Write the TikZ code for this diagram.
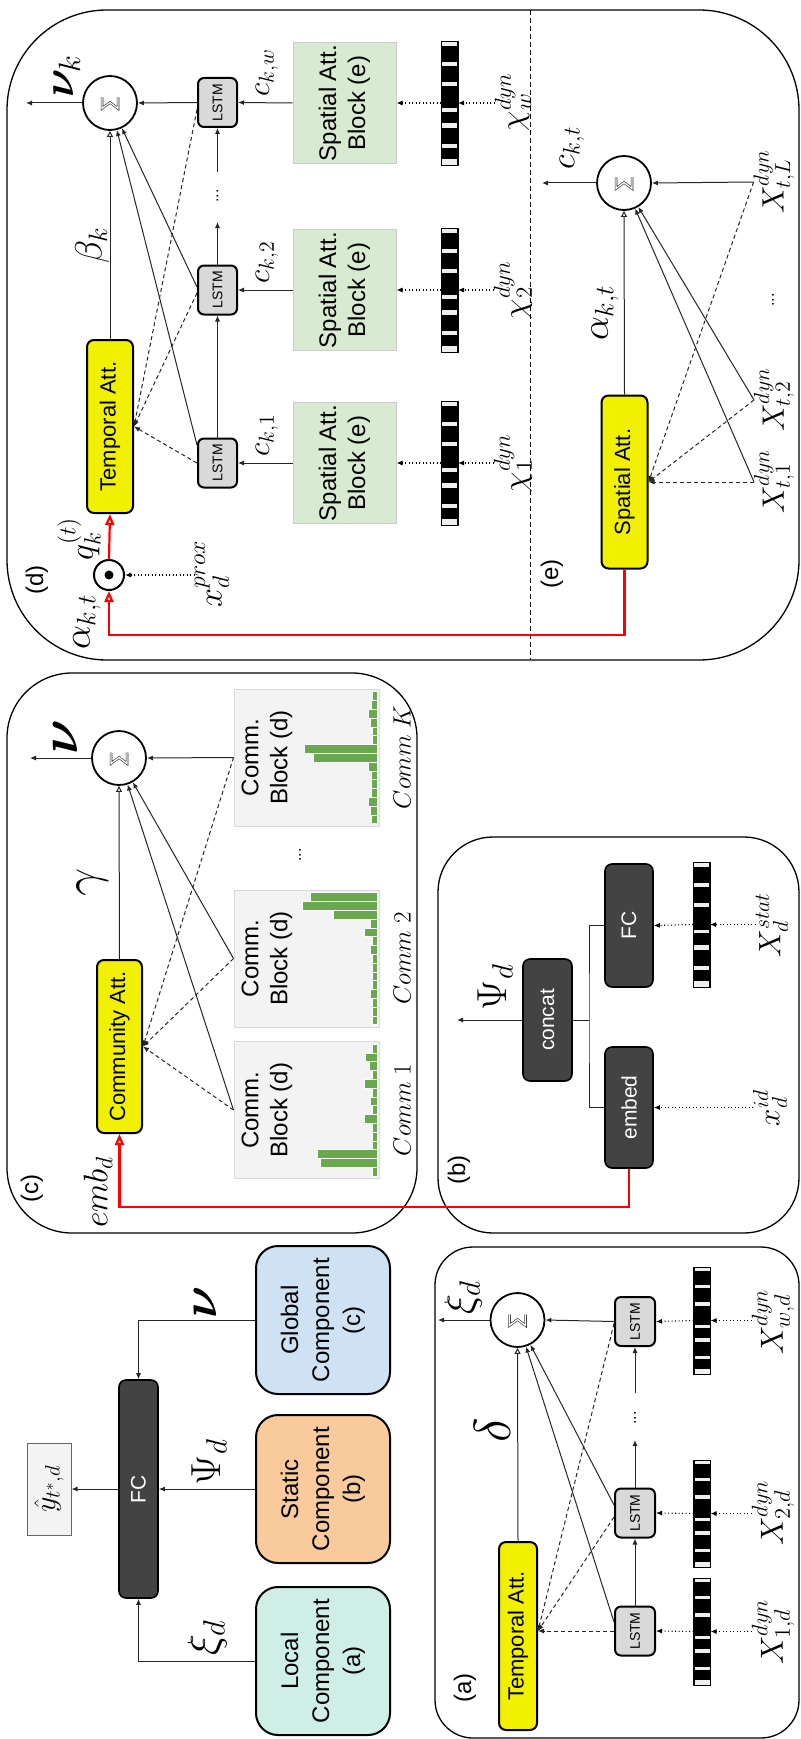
\RequirePackage{fix-cm}
\documentclass[tikz,border=0pt]{standalone}
\usepackage{graphicx}
\usepackage{bm}
\usepackage[no-math]{fontspec}
\setmainfont{Liberation Sans}
\usetikzlibrary{arrows.meta,calc}
\definecolor{cglobal}{HTML}{CFE2F3}
\definecolor{cstatic}{HTML}{F9CB9C}
\definecolor{clocal}{HTML}{CFEEE6}
\definecolor{cyell}{HTML}{F0F000}
\definecolor{cdark}{HTML}{434343}
\definecolor{clstm}{HTML}{D9D9D9}
\definecolor{cspat}{HTML}{D9EAD3}
\definecolor{ccomm}{HTML}{F3F3F3}
\definecolor{ccommb}{HTML}{D9D9D9}
\definecolor{chist}{HTML}{6AA84F}
\definecolor{cband}{HTML}{EEEEEE}
\definecolor{cred}{HTML}{FF0000}
\newcommand{\myfs}[1]{\fontsize{#1}{#1}\selectfont}
\newcommand{\ml}[2]{\scalebox{\fpeval{#1/20}}{\myfs{20}$#2$}}
\newcommand{\barcode}[1]{%
  \foreach \a/\b in {0/0.04, 0.17/0.2, 0.33/0.36, 0.54/0.57, 0.66/0.7, 0.83/0.86, 0.955/1}{%
    \fill[cband] ($(#1.north east)!\a!(#1.north west)+(1,0)$) rectangle ($(#1.south east)!\b!(#1.south west)+(-1,0)$);
  }%
  \draw[line width=0.8pt] (#1.north east) rectangle (#1.south west);
}
\newcommand{\hist}[2]{%
  \foreach \l [count=\i] in {#2}{%
    \fill[chist, draw=white, line width=0.4pt] ($(#1.south east)+(-2,{3+(\i-1)*8.8})$) rectangle ++(-\l,8.8);
  }%
}
\newcommand{\sigmark}[1]{\draw[sigm] ($(#1)+(-8,-5.5)$) -- ($(#1)+(-8,5.5)$) -- ($(#1)+(0,-0.5)$) -- ($(#1)+(8,5.5)$) -- ($(#1)+(8,-5.5)$);}
\tikzset{
  lbl/.style={inner sep=0pt, outer sep=0pt},
  boxtext/.style={font=\fontsize{24}{29}\selectfont, align=center},
  comp/.style={draw=black, line width=2pt, rounded corners=22pt, minimum width=148pt, minimum height=134pt, font=\fontsize{24}{31}\selectfont, align=center, inner sep=0pt},
  dark/.style={draw=black, fill=cdark, line width=1.6pt, rounded corners=7pt, text=white, font=\fontsize{21}{21}\selectfont, inner sep=0pt},
  att/.style={draw=black, fill=cyell, line width=2pt, rounded corners=7pt, font=\fontsize{22}{22}\selectfont, inner sep=0pt},
  lstm/.style={draw=black, fill=clstm, line width=2pt, rounded corners=6pt, minimum width=49pt, minimum height=40pt, font=\fontsize{14}{14}\selectfont, inner sep=0pt},
  sumn/.style={circle, draw=black, line width=1.8pt, minimum size=54pt, inner sep=0pt},
  spat/.style={fill=cspat, draw=black!20, line width=1pt, minimum width=121pt, minimum height=103pt, boxtext, inner sep=0pt},
  comm/.style={fill=ccomm, draw=ccommb, line width=1pt, minimum width=137pt, minimum height=145pt, inner sep=0pt},
  strip/.style={fill=black, minimum height=17pt, inner sep=0pt, outer sep=0pt},
  panel/.style={draw=black, line width=1.3pt},
  conn/.style={draw=black!85, line width=1pt},
  arr/.style={conn, -{Latex[length=6pt,width=5pt]}},
  darr/.style={arr, dash pattern=on 4pt off 3pt},
  dotarr/.style={draw=black, line width=1.1pt, dash pattern=on 1pt off 2.5pt, -{Latex[length=6pt,width=5pt]}},
  oarr/.style={conn, -{Triangle[open,length=6pt,width=6pt]}},
  redarr/.style={draw=cred, line width=2.2pt, -{Triangle[open,length=11pt,width=9pt]}},
  sigm/.style={draw=black!85, line width=0.6pt, double=white, double distance=1.3pt, line join=miter},
}
\begin{document}
\begin{tikzpicture}[x=1pt,y=-1pt,every node/.style={rotate=90}]
\useasboundingbox (0,0) rectangle (800,1739);

% ================= top-left: components
\node[draw=black!60, fill=ccomm, line width=1pt, minimum width=92pt, minimum height=44pt, inner sep=0pt] (yhat) at (49,1489) {\ml{30}{\hat{y}_{t^*,d}}};
\node[dark, minimum width=218pt, minimum height=39pt] (fc) at (138.5,1489) {FC};
\node[comp, fill=cglobal] (glob) at (323,1320) {Global\\Component\\(c)};
\node[comp, fill=cstatic] (stat) at (323,1489) {Static\\Component\\(b)};
\node[comp, fill=clocal] (loc) at (323,1661) {Local\\Component\\(a)};
\draw[arr] (fc.north) -- (yhat.south);
\draw[arr] (glob.north) -| (fc.east);
\draw[arr] (stat.north) -- (fc.south);
\draw[arr] (loc.north) -| (fc.west);
\node[lbl] (lnu) at (205,1302) {\ml{50}{\bm{\nu}}};
\node[lbl] (lpsi) at (209,1462) {\ml{42}{\Psi_d}};
\node[lbl] (lxi) at (207,1638) {\ml{44}{\xi_d}};

% ================= panel (a)
\draw[panel, rounded corners=38pt] (435,1247) rectangle (799,1738);
\node[lbl] (la) at (465,1688) {\myfs{24}(a)};
\node[att, minimum width=188pt, minimum height=38pt] (taa) at (518,1636) {Temporal Att.};
\node[sumn] (suma) at (517.5,1320) {}; \sigmark{suma}
\coordinate (xiout) at (438,1320);
\draw[arr] (suma.north) -- (xiout);
\node[lbl] (lxia) at (463,1297) {\ml{42}{\xi_d}};
\draw[oarr] (taa.east) -- (suma.west);
\node[lbl] (ldelta) at (492,1430) {\ml{52}{\delta}};
\node[lstm] (la1) at (635,1631) {LSTM};
\node[lstm] (la2) at (635,1513) {LSTM};
\node[lstm] (law) at (635,1321.5) {LSTM};
\draw[arr] (la1.east) -- (la2.west);
\coordinate (a1) at (635,1440); \coordinate (a2) at (635,1393);
\draw[arr] (la2.east) -- (a1);
\node[lbl] (dotsa) at (635,1418) {\myfs{16}...};
\draw[arr] (a2) -- (law.west);
\draw[arr] (law.north) -- (suma.south);
\draw[arr] ($(la2.north)+(0,-8)$) -- (suma);
\draw[arr] ($(la1.north)+(0,-9)$) -- (suma);
\coordinate (taat) at (taa.south |- la1);
\draw[darr] (la1.north) -- (taat);
\draw[darr] ($(la2.north)+(0,4)$) -- (taat);
\draw[darr] ($(law.north)+(0,2)$) -- (taat);
\node[strip, minimum width=107pt] (sa1) at (702,1631.5) {}; \barcode{sa1}
\node[strip, minimum width=107pt] (sa2) at (702,1513.5) {}; \barcode{sa2}
\node[strip, minimum width=107pt] (saw) at (702,1320.5) {}; \barcode{saw}
\node[lbl] (xa1) at (773,1632) {\ml{32}{X^{dyn}_{1,d}}};
\node[lbl] (xa2) at (773,1513) {\ml{32}{X^{dyn}_{2,d}}};
\node[lbl] (xaw) at (773,1322) {\ml{32}{X^{dyn}_{w,d}}};
\draw[dotarr] (xa1.north |- sa1) -- (sa1.south);
\draw[dotarr] (xa2.north |- sa2) -- (sa2.south);
\draw[dotarr] (xaw.north |- saw) -- (saw.south);
\draw[dotarr] (sa1.north) -- (la1.south);
\draw[dotarr] (sa2.north) -- (la2.south);
\draw[dotarr] (saw.north) -- (law.south);

% ================= panel (c)
\draw[panel, rounded corners=65pt] (7,673) rectangle (417,1233);
\node[sumn] (sc) at (119,758) {}; \sigmark{sc}
\coordinate (nuout) at (30,758);
\draw[arr] (sc.north) -- (nuout);
\node[lbl] (lnuc) at (65,737) {\ml{54}{\bm{\nu}}};
\node[att, minimum width=173pt, minimum height=45pt] (cat) at (119.5,1046.5) {Community Att.};
\draw[oarr] (cat.east) -- (sc.west);
\node[lbl] (lgamma) at (93,882) {\ml{50}{\gamma}};
\node[comm] (cbk) at (306.5,757.5) {};
\node[comm] (cb2) at (306.5,958.5) {};
\node[comm] (cb1) at (306.5,1110) {};
\hist{cbk}{5,6,9,7,5,5,73,64,9,6,6,6,9,7,6}
\hist{cb2}{67,75,44,7,13,5,7,5,5,5,5,7,5,5,5}
\hist{cb1}{5,12,8,5,13,5,7,5,13,5,5,5,60,57,5}
\node[boxtext] (tk) at (267,757.5) {Comm.\\Block (d)};
\node[boxtext] (t2) at (267,958.5) {Comm.\\Block (d)};
\node[boxtext] (t1) at (267,1110) {Comm.\\Block (d)};
\node[lbl] (nk) at (402,757.5) {\ml{25}{Comm\ K}};
\node[lbl] (n2) at (402,958.5) {\ml{25}{Comm\ 2}};
\node[lbl] (n1) at (402,1110) {\ml{25}{Comm\ 1}};
\node[lbl] (dotsc) at (300,855) {\myfs{16}...};
\draw[arr] (cbk.north) -- (sc.south);
\draw[arr] (cb2.north) -- (sc);
\draw[arr] (cb1.north) -- (sc);
\draw[darr] (cbk.north) -- (cat.south);
\draw[darr] (cb2.north) -- (cat.south);
\draw[darr] (cb1.north) -- (cat.south);
\node[lbl] (lemb) at (98,1192) {\ml{34}{emb_d}};
\node[lbl] (lc) at (32,1188) {\myfs{24}(c)};

% ================= panel (b)
\draw[panel, rounded corners=55pt] (438,837) rectangle (799,1233);
\node[dark, minimum width=122pt, minimum height=49pt] (concat) at (547.5,1020) {concat};
\node[dark, minimum width=123pt, minimum height=48pt] (fcb) at (629,925.5) {FC};
\node[dark, minimum width=121pt, minimum height=48pt] (embed) at (629,1107.5) {embed};
\coordinate (br) at (589,1020);
\draw[conn] (concat.south) -- (br);
\draw[conn] (fcb.north) -| (br) |- (embed.north);
\coordinate (psiout) at (457,1020);
\draw[arr] (concat.north) -- (psiout);
\node[lbl] (lpsib) at (495,987) {\ml{42}{\Psi_d}};
\node[strip, minimum width=125pt] (sbs) at (701.5,924.5) {}; \barcode{sbs}
\node[lbl] (lxstat) at (772,925) {\ml{31}{X_d^{stat}}};
\node[lbl] (lxid) at (770,1108) {\ml{31}{x_d^{id}}};
\draw[dotarr] (lxstat.north |- sbs) -- (sbs.south);
\draw[dotarr] (sbs.north) -- (fcb.south);
\draw[dotarr] (lxid.north |- embed) -- (embed.south);
\node[lbl] (lb) at (459,1170) {\myfs{24}(b)};

% ================= panel (d)/(e)
\draw[panel, rounded corners=100pt] (7,10) rectangle (799,660);
\coordinate (sepT) at (530,10); \coordinate (sepB) at (530,660);
\draw[line width=1pt, dash pattern=on 5pt off 3pt] (sepT) -- (sepB);
% (d)
\node[sumn] (sd) at (110,103) {}; \sigmark{sd}
\coordinate (nukout) at (26,103);
\draw[arr] (sd.north) -- (nukout);
\node[lbl] (lnuk) at (67,76) {\ml{44}{\bm{\nu}_k}};
\node[att, minimum width=173pt, minimum height=46pt] (tad) at (110,426.5) {Temporal Att.};
\draw[oarr] (tad.east) -- (sd.west);
\node[lbl] (lbeta) at (92,245) {\ml{38}{\beta_k}};
\node[lstm, minimum height=39pt] (lw) at (217.5,102.5) {LSTM};
\node[lstm, minimum height=39pt] (l2) at (217.5,290) {LSTM};
\node[lstm, minimum height=39pt] (l1) at (217.5,463) {LSTM};
\node[spat] (bw) at (344.5,103) {Spatial Att.\\Block (e)};
\node[spat] (b2) at (344.5,290) {Spatial Att.\\Block (e)};
\node[spat] (b1) at (344.5,463) {Spatial Att.\\Block (e)};
\node[strip, minimum width=124pt] (dw) at (449.5,103) {}; \barcode{dw}
\node[strip, minimum width=124pt] (d2) at (449.5,290) {}; \barcode{d2}
\node[strip, minimum width=124pt] (d1) at (449.5,463) {}; \barcode{d1}
\node[lbl] (chiw) at (513,102) {\ml{33}{\chi^{dyn}_{w}}};
\node[lbl] (chi2) at (513,290) {\ml{33}{\chi^{dyn}_{2}}};
\node[lbl] (chi1) at (513,463) {\ml{33}{\chi^{dyn}_{1}}};
\node[lbl] (cw) at (267,73) {\ml{31}{c_{k,w}}};
\node[lbl] (c2) at (267,262) {\ml{31}{c_{k,2}}};
\node[lbl] (c1) at (267,435) {\ml{31}{c_{k,1}}};
\draw[arr] (bw.north) -- (lw.south);
\draw[arr] (b2.north) -- (l2.south);
\draw[arr] (b1.north) -- (l1.south);
\draw[dotarr] (dw.north) -- (bw.south);
\draw[dotarr] (d2.north) -- (b2.south);
\draw[dotarr] (d1.north) -- (b1.south);
\draw[dotarr] (chiw.north |- dw) -- (dw.south);
\draw[dotarr] (chi2.north |- d2) -- (d2.south);
\draw[dotarr] (chi1.north |- d1) -- (d1.south);
\draw[arr] (l1.east) -- (l2.west);
\coordinate (d1a) at (217.5,222); \coordinate (d2a) at (217.5,172);
\draw[arr] (l2.east) -- (d1a);
\node[lbl] (dotsd) at (217.5,196) {\myfs{16}...};
\draw[arr] (d2a) -- (lw.west);
\draw[arr] (lw.north) -- (sd.south);
\draw[arr] ($(l2.north)+(0,-3)$) -- (sd);
\draw[arr] ($(l1.north)+(0,-18)$) -- (sd);
\draw[darr] ($(lw.north)+(0,7)$) -- (tad.south);
\draw[darr] ($(l2.north)+(0,3)$) -- (tad.south);
\draw[darr] (l1.north) -- (tad.south);
\node[circle, draw=black, line width=2pt, minimum size=30pt, inner sep=0pt] (odot) at (109,575) {};
\fill (odot) circle (4.5pt);
\node[lbl] (lq) at (79,539) {\ml{34}{q_k^{(t)}}};
\node[lbl] (lprox) at (212,574) {\ml{34}{x_d^{prox}}};
\draw[dotarr] (lprox.north |- odot) -- (odot.south);
\node[lbl] (ld) at (37,580) {\myfs{24}(d)};
\node[lbl] (lalpha1) at (87,622) {\ml{38}{\alpha_{k,t}}};
% (e)
\node[lbl] (le) at (552,574) {\myfs{24}(e)};
\node[sumn] (se) at (624,183) {}; \sigmark{se}
\coordinate (ckout) at (542,183);
\draw[arr] (se.north) -- (ckout);
\node[lbl] (lckt) at (572,148) {\ml{34}{c_{k,t}}};
\node[att, minimum width=173pt, minimum height=46pt] (sae) at (624.5,482) {Spatial Att.};
\draw[oarr] (sae.east) -- (se.west);
\node[lbl] (lalpha2) at (605,313) {\ml{38}{\alpha_{k,t}}};
\node[lbl] (xtl) at (774,182) {\ml{31}{X^{dyn}_{t,L}}};
\node[lbl] (xt2) at (774,400) {\ml{31}{X^{dyn}_{t,2}}};
\node[lbl] (xt1) at (774,482) {\ml{31}{X^{dyn}_{t,1}}};
\node[lbl] (dotse) at (773,300) {\myfs{16}...};
\draw[arr] (xtl.north) -- (se.south);
\draw[arr] (xt2.north) -- (se);
\draw[arr] (xt1.north) -- (se);
\draw[darr] (xtl.north) -- (sae.south);
\draw[darr] (xt2.north) -- (sae.south);
\draw[darr] (xt1.north) -- (sae.south);

% ================= red connectors
\draw[redarr] (odot.east) -- (tad.west);
\coordinate (rc) at (624.5,635);
\draw[redarr] (sae.west) -- (rc) -| (odot.west);
\coordinate (rb) at (629,1207);
\draw[redarr] (embed.west) -- (rb) -| (cat.west);
\end{tikzpicture}
\end{document}
